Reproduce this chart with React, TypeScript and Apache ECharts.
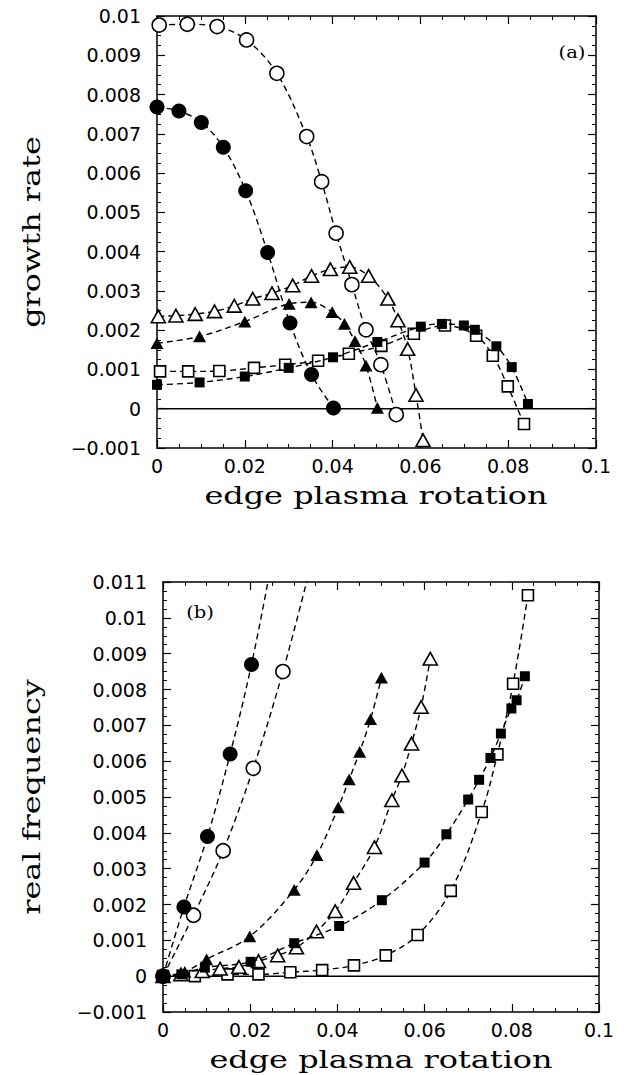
import React, { useEffect, useRef } from "react";
import * as echarts from "echarts";

// ---------- (a) growth rate vs edge plasma rotation ----------
const growthOpenCircle: number[][] = [
  [0.0005, 0.00977], [0.0069, 0.00979], [0.0137, 0.00973], [0.0204, 0.00939],
  [0.0273, 0.00854], [0.0341, 0.00693], [0.0375, 0.00578], [0.0408, 0.00447],
  [0.0444, 0.00316], [0.0476, 0.00201], [0.051, 0.00112], [0.0545, -0.00015],
];
const growthFilledCircle: number[][] = [
  [0, 0.00768], [0.005, 0.00758], [0.0101, 0.00729], [0.0151, 0.00666],
  [0.0202, 0.00555], [0.0252, 0.00398], [0.0303, 0.00218], [0.0352, 0.00087],
  [0.0402, 0.00002],
];
const growthOpenTriangle: number[][] = [
  [0.0003, 0.00235], [0.0043, 0.00237], [0.0087, 0.00241], [0.0131, 0.00248],
  [0.0176, 0.00262], [0.0218, 0.0028], [0.0262, 0.00294], [0.0309, 0.00314],
  [0.0352, 0.00338], [0.0395, 0.00355], [0.0439, 0.00361], [0.0482, 0.00338],
  [0.0526, 0.0028], [0.0549, 0.00225], [0.0571, 0.00152], [0.059, 0.00035],
  [0.0606, -0.0008],
];
const growthFilledTriangle: number[][] = [
  [0, 0.00167], [0.0097, 0.00184], [0.02, 0.00222], [0.0301, 0.00267],
  [0.0351, 0.00271], [0.0399, 0.00246], [0.0427, 0.00216], [0.0451, 0.00172],
  [0.0476, 0.0011], [0.0502, 0.00002],
];
const growthOpenSquare: number[][] = [
  [0.0007, 0.00095], [0.0071, 0.00095], [0.0142, 0.00096], [0.0221, 0.00104],
  [0.0292, 0.00112], [0.0367, 0.00122], [0.0437, 0.0014], [0.0511, 0.0016],
  [0.0585, 0.00191], [0.0656, 0.00212], [0.0727, 0.00186], [0.0765, 0.00135],
  [0.0799, 0.00057], [0.0836, -0.00039],
];
const growthFilledSquare: number[][] = [
  [0, 0.00061], [0.0097, 0.00067], [0.02, 0.00082], [0.03, 0.00104],
  [0.0401, 0.00131], [0.0502, 0.0017], [0.0601, 0.00209], [0.0649, 0.00216],
  [0.0699, 0.00212], [0.0724, 0.00201], [0.0773, 0.00159], [0.0808, 0.00106],
  [0.0845, 0.00012],
];

// ---------- (b) real frequency vs edge plasma rotation ----------
const freqOpenCircle: number[][] = [
  [0, 0], [0.007, 0.0017], [0.0138, 0.0035], [0.0207, 0.0058], [0.0275, 0.0085],
  [0.0344, 0.0117],
];
const freqFilledCircle: number[][] = [
  [0, 0], [0.0048, 0.00193], [0.0102, 0.0039], [0.0154, 0.0062], [0.0203, 0.0087],
  [0.025, 0.0116],
];
const freqOpenTriangle: number[][] = [
  [0, 0], [0.0041, 0.00005], [0.009, 0.00014], [0.0131, 0.00021], [0.0174, 0.00026],
  [0.0219, 0.00042], [0.0263, 0.00058], [0.0306, 0.0008], [0.0352, 0.00125],
  [0.0395, 0.00181], [0.0437, 0.0026], [0.0485, 0.0036], [0.0525, 0.00491],
  [0.0548, 0.0056], [0.057, 0.00649], [0.0592, 0.00751], [0.0613, 0.00886],
];
const freqFilledTriangle: number[][] = [
  [0, 0], [0.005, 0.00012], [0.01, 0.00047], [0.0199, 0.00111], [0.0301, 0.00241],
  [0.0353, 0.00338], [0.0402, 0.00471], [0.0427, 0.00549], [0.0451, 0.00626],
  [0.0476, 0.00717], [0.0501, 0.00833],
];
const freqOpenSquare: number[][] = [
  [0, 0], [0.0073, 0.0], [0.0148, 0.00005], [0.0219, 0.00005], [0.0292, 0.00011],
  [0.0365, 0.00017], [0.0438, 0.0003], [0.0511, 0.00058], [0.0584, 0.00115],
  [0.066, 0.00238], [0.0731, 0.00458], [0.0767, 0.00619], [0.0803, 0.00816],
  [0.0837, 0.01063],
];
const freqFilledSquare: number[][] = [
  [0, 0], [0.0042, 0.00005], [0.0096, 0.00024], [0.0201, 0.0004], [0.0301, 0.00092],
  [0.0404, 0.0014], [0.0502, 0.00212], [0.06, 0.00317], [0.065, 0.00396],
  [0.07, 0.00493], [0.0725, 0.00548], [0.0751, 0.00609], [0.0775, 0.00677],
  [0.0799, 0.00747], [0.0811, 0.0077], [0.083, 0.00837],
];

const zeroLine: number[][] = [[0, 0], [0.1, 0]];

const xTitle = "edge plasma rotation";
const yTitleTop = "growth rate";
const yTitleBottom = "real frequency";
const panelA = "(a)";
const panelB = "(b)";

const tickFont = "DejaVu Sans";
const titleFont = "DejaVu Serif";

function fmt(v: number): string {
  const r = Math.round(v * 1e6) / 1e6;
  if (r === 0) return "0";
  const s = String(r);
  return s.replace("-", "\u2212");
}

function makeX(gridIndex: number, position: "bottom" | "top") {
  const show = position === "bottom";
  return {
    type: "value",
    gridIndex,
    position,
    min: 0,
    max: 0.1,
    interval: 0.02,
    axisLine: { show: true, onZero: false, lineStyle: { color: "#000", width: 1.5 } },
    axisTick: { show: true, inside: true, length: 8, lineStyle: { color: "#000", width: 1.2 } },
    minorTick: { show: true, splitNumber: 4, length: 4, lineStyle: { color: "#000", width: 1 } },
    splitLine: { show: false },
    minorSplitLine: { show: false },
    axisLabel: {
      show,
      formatter: fmt,
      fontFamily: tickFont,
      fontSize: 19,
      color: "#000",
      margin: 8,
    },
  };
}

function makeY(gridIndex: number, position: "left" | "right", max: number) {
  const show = position === "left";
  return {
    type: "value",
    gridIndex,
    position,
    min: -0.001,
    max,
    interval: 0.001,
    axisLine: { show: true, onZero: false, lineStyle: { color: "#000", width: 1.5 } },
    axisTick: { show: true, inside: true, length: 8, lineStyle: { color: "#000", width: 1.2 } },
    minorTick: { show: true, splitNumber: 4, length: 4, lineStyle: { color: "#000", width: 1 } },
    splitLine: { show: false },
    minorSplitLine: { show: false },
    axisLabel: {
      show,
      formatter: fmt,
      fontFamily: tickFont,
      fontSize: 19,
      color: "#000",
      margin: 16,
    },
  };
}

type Kind = "circle" | "triangle" | "rect";

function mkSeries(
  name: string,
  data: number[][],
  kind: Kind,
  filled: boolean,
  axisIdx: number,
  size: number
) {
  return {
    name,
    type: "line",
    xAxisIndex: axisIdx,
    yAxisIndex: axisIdx,
    data,
    smooth: 0.35,
    symbol: kind,
    symbolSize: kind === "triangle" ? [size, size * 0.9] : size,
    showAllSymbol: true,
    clip: true,
    lineStyle: { color: "#000", width: 1.4, type: [6, 4] },
    itemStyle: {
      color: filled ? "#000" : "#fff",
      borderColor: "#000",
      borderWidth: filled ? 0 : 1.6,
    },
    emphasis: { disabled: true },
    z: filled ? 4 : 3,
  };
}

function zero(axisIdx: number) {
  return {
    name: "zero" + axisIdx,
    type: "line",
    xAxisIndex: axisIdx,
    yAxisIndex: axisIdx,
    data: zeroLine,
    symbol: "none",
    lineStyle: { color: "#000", width: 1.5, type: "solid" },
    emphasis: { disabled: true },
    z: 2,
  };
}

export default function App() {
  const ref = useRef<HTMLDivElement>(null);
  useEffect(() => {
    if (!ref.current) return;
    const chart = echarts.init(ref.current, undefined, { renderer: "svg" });
    const option: any = {
      animation: false,
      backgroundColor: "#fff",
      grid: [
        { left: 157, top: 16, width: 439, height: 432 },
        { left: 163, top: 582, width: 436, height: 430 },
      ],
      xAxis: [
        makeX(0, "bottom"),
        makeX(1, "bottom"),
        makeX(0, "top"),
        makeX(1, "top"),
      ],
      yAxis: [
        makeY(0, "left", 0.01),
        makeY(1, "left", 0.011),
        makeY(0, "right", 0.01),
        makeY(1, "right", 0.011),
      ],
      series: [
        zero(0),
        mkSeries("a-open-square", growthOpenSquare, "rect", false, 0, 11),
        mkSeries("a-filled-square", growthFilledSquare, "rect", true, 0, 10),
        mkSeries("a-open-triangle", growthOpenTriangle, "triangle", false, 0, 14),
        mkSeries("a-filled-triangle", growthFilledTriangle, "triangle", true, 0, 13),
        mkSeries("a-open-circle", growthOpenCircle, "circle", false, 0, 14),
        mkSeries("a-filled-circle", growthFilledCircle, "circle", true, 0, 15),
        zero(1),
        mkSeries("b-open-square", freqOpenSquare, "rect", false, 1, 11),
        mkSeries("b-filled-square", freqFilledSquare, "rect", true, 1, 10),
        mkSeries("b-open-triangle", freqOpenTriangle, "triangle", false, 1, 14),
        mkSeries("b-filled-triangle", freqFilledTriangle, "triangle", true, 1, 13),
        mkSeries("b-open-circle", freqOpenCircle, "circle", false, 1, 14),
        mkSeries("b-filled-circle", freqFilledCircle, "circle", true, 1, 15),
      ],
      graphic: [
        {
          type: "text", x: 376, y: 496, scaleX: 1.33,
          style: { text: xTitle, font: `24px "${titleFont}"`, fill: "#000", textAlign: "center", textVerticalAlign: "middle" },
        },
        {
          type: "text", x: 381, y: 1060, scaleX: 1.33,
          style: { text: xTitle, font: `24px "${titleFont}"`, fill: "#000", textAlign: "center", textVerticalAlign: "middle" },
        },
        {
          type: "text", x: 32, y: 232, rotation: Math.PI / 2, scaleX: 1.33,
          style: { text: yTitleTop, font: `24px "${titleFont}"`, fill: "#000", textAlign: "center", textVerticalAlign: "middle" },
        },
        {
          type: "text", x: 32, y: 797, rotation: Math.PI / 2, scaleX: 1.33,
          style: { text: yTitleBottom, font: `24px "${titleFont}"`, fill: "#000", textAlign: "center", textVerticalAlign: "middle" },
        },
        {
          type: "text", x: 572, y: 52, scaleX: 1.15,
          style: { text: panelA, font: `17px "${titleFont}"`, fill: "#000", textAlign: "center", textVerticalAlign: "middle" },
        },
        {
          type: "text", x: 200, y: 612, scaleX: 1.15,
          style: { text: panelB, font: `17px "${titleFont}"`, fill: "#000", textAlign: "center", textVerticalAlign: "middle" },
        },
      ],
    };
    chart.setOption(option);
    return () => chart.dispose();
  }, []);
  return (
    <div
      ref={ref}
      style={{ position: "absolute", left: 0, top: 0, width: 625, height: 1075, background: "#fff" }}
    />
  );
}
